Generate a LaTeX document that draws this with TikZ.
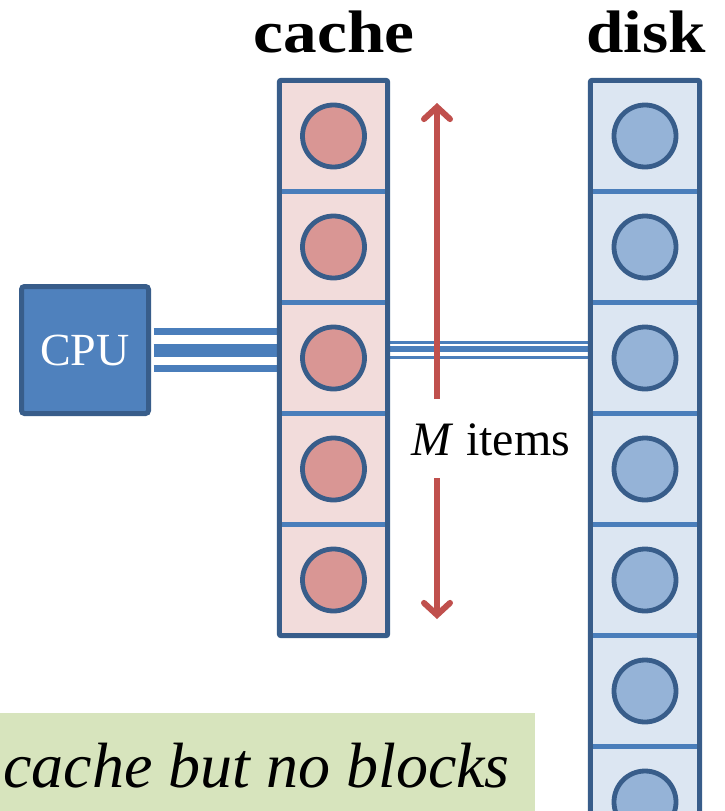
\documentclass[tikz,border=0pt]{standalone}
\usepackage{fontspec}
\usepackage{graphicx}
\setmainfont{Liberation Serif}
\usetikzlibrary{arrows.meta}

\definecolor{frameblue}{HTML}{385D8A}
\definecolor{sepblue}{HTML}{4A7EBB}
\definecolor{cpublue}{HTML}{4F81BD}
\definecolor{cachefill}{HTML}{F2DCDB}
\definecolor{cacheitem}{HTML}{D99694}
\definecolor{diskfill}{HTML}{DCE6F2}
\definecolor{diskitem}{HTML}{95B3D7}
\definecolor{arrowred}{HTML}{C0504D}
\definecolor{notegreen}{HTML}{D7E4BD}

\tikzset{
  cell/.style={rectangle, draw=none, inner sep=0, minimum height=111pt},
  cachecell/.style={cell, fill=cachefill, minimum width=108pt},
  diskcell/.style={cell, fill=diskfill, minimum width=109pt},
  separator/.style={draw=sepblue, line width=5pt},
  frame/.style={draw=frameblue, line width=5pt, rounded corners=2pt},
  item/.style={circle, draw=frameblue, line width=4.8pt, minimum size=62pt, inner sep=0},
  cacheitemstyle/.style={item, fill=cacheitem},
  diskitemstyle/.style={item, fill=diskitem},
  cpubox/.style={rectangle, fill=cpublue, draw=frameblue, line width=5pt,
    rounded corners=3pt, minimum size=127pt, inner sep=0, text=white,
    font=\fontsize{46}{50}\selectfont},
  bus/.style={draw=sepblue, shorten <=2.5pt},
  measure/.style={draw=arrowred, line width=6pt,
    -{Straight Barb[length=12pt, width=26pt, line cap=round]}},
  title/.style={font=\bfseries\fontsize{60}{66}\selectfont, inner sep=0, anchor=base},
}

\begin{document}
\begin{tikzpicture}[x=1pt, y=-1pt]
\useasboundingbox (0,0) rectangle (724,811);
\clip (0,0) rectangle (724,811);

% column titles
\node[title] (tcache) at (334,52) {\scalebox{1.12}[1]{cache}};
\node[title] (tdisk) at (646,52) {\scalebox{1.12}[1]{disk}};

% cache cells (5) and disk cells (7, the last ones run off the page)
\foreach \i in {1,...,5}
  \node[cachecell] (c\i) at (333.5, {80.5 + 111*(\i-0.5)}) {};
\foreach \i in {1,...,7}
  \node[diskcell] (d\i) at (645, {80.5 + 111*(\i-0.5)}) {};

% CPU
\node[cpubox] (cpu) at (85,350) {CPU};

% bus CPU -- cache
\draw[bus, line width=7pt]  ([yshift=19pt]cpu.east)  -- ([yshift=19pt]cpu.east -| c3.west);
\draw[bus, line width=13pt] (cpu.east) -- (cpu.east -| c3.west);
\draw[bus, line width=7pt]  ([yshift=-18pt]cpu.east) -- ([yshift=-18pt]cpu.east -| c3.west);

% bus cache -- disk
\coordinate (busmid) at (c3.east |- 0,349);
\draw[bus, line width=3pt] ([yshift=7pt]busmid) -- ([yshift=7pt]busmid -| d3.west);
\draw[bus, line width=6pt] (busmid) -- (busmid -| d3.west);
\draw[bus, line width=3pt] ([yshift=-8pt]busmid) -- ([yshift=-8pt]busmid -| d3.west);

% separators between cells
\foreach \i in {1,...,4}
  \draw[separator] (c\i.south west) -- (c\i.south east);
\foreach \i in {1,...,6}
  \draw[separator] (d\i.south west) -- (d\i.south east);

% column outlines
\draw[frame] (c1.north west) rectangle (c5.south east);
\draw[frame] (d1.north west) rectangle (d7.south east);

% items
\foreach \i in {1,...,5}
  \node[cacheitemstyle] (ci\i) at (c\i) {};
\foreach \i in {1,...,7}
  \node[diskitemstyle] (di\i) at (d\i) {};

% cache size indicator
\node[font=\fontsize{48}{52}\selectfont, inner sep=0, anchor=base] (mlabel) at (491,455)
  {\textit{M} items};
\coordinate (mtop) at (437,103);
\coordinate (mbot) at (437,619);
\coordinate (mup) at (437,399);
\coordinate (mdown) at (437,478);
\draw[measure] (mup) -- (mtop);
\draw[measure] (mdown) -- (mbot);

% note box
\node[rectangle, fill=notegreen, minimum width=535pt, minimum height=98pt,
  inner sep=0, anchor=north west] (note) at (0,713) {};
\node[font=\itshape\fontsize{64}{70}\selectfont, inner sep=0, anchor=base east]
  (notetext) at (510,787) {cache but no blocks};
\end{tikzpicture}
\end{document}
